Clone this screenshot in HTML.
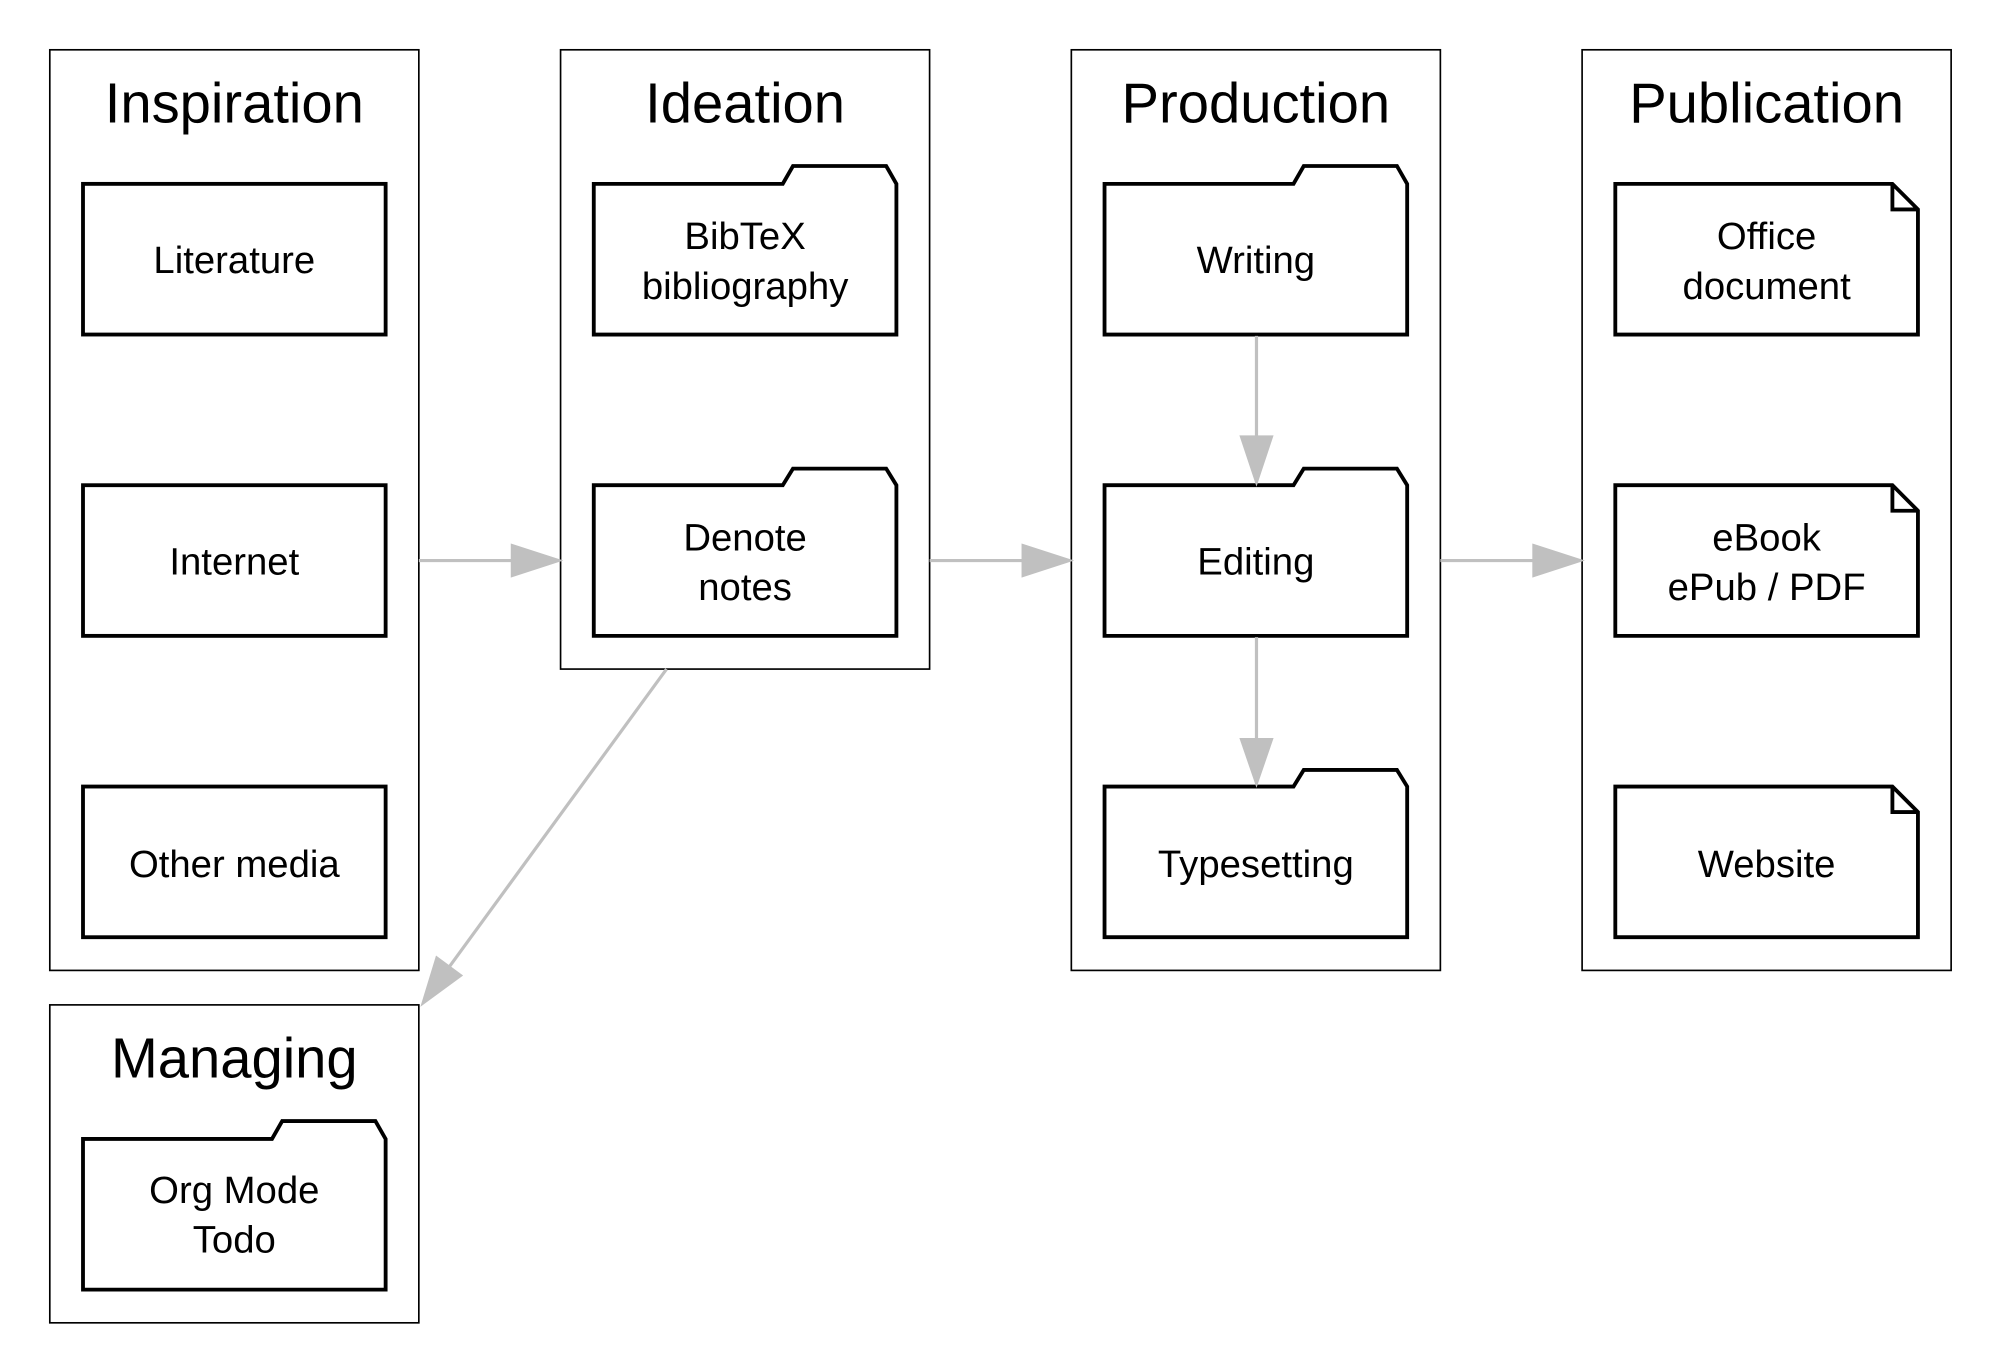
<!DOCTYPE html>
<html><head><meta charset="utf-8"><style>
html,body{margin:0;padding:0;background:#fff;width:1992px;height:1367px;overflow:hidden}
svg{display:block}
text{font-family:"Liberation Sans",sans-serif;fill:#000;text-anchor:middle}
.t{font-size:44px}
.n{font-size:30px}
.c{fill:#fff;stroke:#000;stroke-width:1.3}
.b{fill:#fff;stroke:#000;stroke-width:3}
.e{stroke:#c0c0c0;stroke-width:2.5;fill:none}
.h{fill:#c0c0c0;stroke:#c0c0c0;stroke-width:2}
</style></head><body>
<svg width="1992" height="1367" viewBox="0 0 1560 1070.6" preserveAspectRatio="none">
<!-- clusters -->
<rect class="c" x="39" y="39" width="289" height="721"/>
<rect class="c" x="439" y="39" width="289" height="485"/>
<rect class="c" x="839" y="39" width="289" height="721"/>
<rect class="c" x="1239" y="39" width="289" height="721"/>
<rect class="c" x="39" y="787" width="289" height="249"/>
<text class="t" x="183.5" y="96">Inspiration</text>
<text class="t" x="583.5" y="96">Ideation</text>
<text class="t" x="983.5" y="96">Production</text>
<text class="t" x="1383.5" y="96">Publication</text>
<text class="t" x="183.5" y="844">Managing</text>
<!-- Inspiration boxes -->
<rect class="b" x="65" y="144" width="237" height="118"/>
<rect class="b" x="65" y="380" width="237" height="118"/>
<rect class="b" x="65" y="616" width="237" height="118"/>
<text class="n" x="183.5" y="214">Literature</text>
<text class="n" x="183.5" y="450">Internet</text>
<text class="n" x="183.5" y="687">Other media</text>
<!-- folders -->
<path class="b" d="M465,144 H613 L621,130 H694 L702,144 V262 H465 Z"/>
<path class="b" d="M465,380 H613 L621,367 H694 L702,380 V498 H465 Z"/>
<path class="b" d="M865,144 H1013 L1021,130 H1094 L1102,144 V262 H865 Z"/>
<path class="b" d="M865,380 H1013 L1021,367 H1094 L1102,380 V498 H865 Z"/>
<path class="b" d="M865,616 H1013 L1021,603 H1094 L1102,616 V734 H865 Z"/>
<path class="b" d="M65,892 H213 L221,878 H294 L302,892 V1010 H65 Z"/>
<text class="n" x="583.5" y="195">BibTeX</text>
<text class="n" x="583.5" y="234">bibliography</text>
<text class="n" x="583.5" y="431">Denote</text>
<text class="n" x="583.5" y="470">notes</text>
<text class="n" x="983.5" y="214">Writing</text>
<text class="n" x="983.5" y="450">Editing</text>
<text class="n" x="983.5" y="687">Typesetting</text>
<text class="n" x="183.5" y="942">Org Mode</text>
<text class="n" x="183.5" y="981">Todo</text>
<!-- notes -->
<path class="b" d="M1265,144 H1482 L1502,164 V262 H1265 Z M1482,144 V164 H1502"/>
<path class="b" d="M1265,380 H1482 L1502,400 V498 H1265 Z M1482,380 V400 H1502"/>
<path class="b" d="M1265,616 H1482 L1502,636 V734 H1265 Z M1482,616 V636 H1502"/>
<text class="n" x="1383.5" y="195">Office</text>
<text class="n" x="1383.5" y="234">document</text>
<text class="n" x="1383.5" y="431">eBook</text>
<text class="n" x="1383.5" y="470">ePub / PDF</text>
<text class="n" x="1383.5" y="687">Website</text>
<!-- edges -->
<line class="e" x1="328" y1="439" x2="402" y2="439"/>
<polygon class="h" points="401,427 438,439 401,451"/>
<line class="e" x1="728" y1="439" x2="802" y2="439"/>
<polygon class="h" points="801,427 838,439 801,451"/>
<line class="e" x1="1128" y1="439" x2="1202" y2="439"/>
<polygon class="h" points="1201,427 1238,439 1201,451"/>
<line class="e" x1="984" y1="263" x2="984" y2="343"/>
<polygon class="h" points="972,342 984,378 996,342"/>
<line class="e" x1="984" y1="499" x2="984" y2="580"/>
<polygon class="h" points="972,579 984,614 996,579"/>
<line class="e" x1="522" y1="524" x2="352" y2="757"/>
<polygon class="h" points="342,750 331,786 361,764"/>
</svg>
</body></html>
